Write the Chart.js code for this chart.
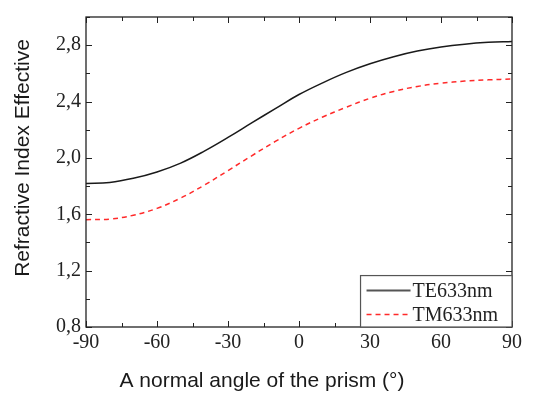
<!DOCTYPE html>
<html><head><meta charset="utf-8">
<script src="https://cdn.jsdelivr.net/npm/chart.js@4"></script>
<style>html,body{margin:0;padding:0;background:#fff}#wrap{width:541px;height:400px}</style>
</head><body><div id="wrap"><canvas id="c" width="541" height="400"></canvas></div>
<script>
const angles = [-90,-80,-70,-60,-50,-40,-30,-20,-10,0,10,20,30,40,50,60,70,80,90];
const te633 = [1.818,1.826,1.855,1.90,1.963,2.048,2.145,2.248,2.35,2.45,2.533,2.607,2.668,2.718,2.758,2.787,2.807,2.82,2.827];
const tm633 = [1.562,1.566,1.593,1.642,1.715,1.807,1.91,2.015,2.117,2.21,2.29,2.36,2.423,2.472,2.507,2.53,2.545,2.554,2.56];
const seriesNames = ["TE633nm","TM633nm"];
const xTicks = [-90,-60,-30,0,30,60,90];
const yTicks = [0.8,1.2,1.6,2.0,2.4,2.8];
const xTitle = "A normal angle of the prism (°)";
const yTitle = "Refractive Index Effective";

const serif = "'Liberation Serif','Times New Roman',serif";
const sans = "'Liberation Sans',Arial,sans-serif";

const framePlugin = {
  id:'frame',
  afterDatasetsDraw(chart){
    const {ctx, chartArea:a, scales} = chart;
    const xs = scales.x, ys = scales.y;
    ctx.save();
    ctx.strokeStyle = '#222'; ctx.lineWidth = 1.3;
    ctx.strokeRect(a.left, a.top, a.right-a.left, a.bottom-a.top);
    ctx.lineWidth = 1;
    for (let v=-90; v<=90; v+=15){
      const px = Math.round(xs.getPixelForValue(v))+0.5;
      const L = (v%30===0)?6:4;
      ctx.beginPath();
      ctx.moveTo(px,a.bottom); ctx.lineTo(px,a.bottom-L);
      ctx.moveTo(px,a.top); ctx.lineTo(px,a.top+L);
      ctx.stroke();
    }
    for (let i=0;i<=11;i++){
      const v = 0.8+i*0.2;
      const py = Math.round(ys.getPixelForValue(v))+0.5;
      const L = (i%2===0)?6:4;
      ctx.beginPath();
      ctx.moveTo(a.left,py); ctx.lineTo(a.left+L,py);
      ctx.moveTo(a.right,py); ctx.lineTo(a.right-L,py);
      ctx.stroke();
    }
    // legend box
    const bx = xs.getPixelForValue(26), bw = a.right - bx;
    const by = ys.getPixelForValue(1.165), bh = a.bottom - by;
    ctx.fillStyle='#fff';
    ctx.fillRect(bx,by,bw,bh);
    ctx.strokeStyle='#555'; ctx.lineWidth=1.2;
    ctx.strokeRect(bx,by,bw,bh);
    ctx.font = "20px " + serif;
    ctx.textBaseline='middle'; ctx.fillStyle='#222';
    chart.data.datasets.forEach((ds,i)=>{
      const yy = by + 15 + i*24;
      ctx.beginPath();
      ctx.strokeStyle = i===0 ? '#555' : ds.borderColor;
      ctx.lineWidth = i===0 ? 2 : 1.4;
      ctx.setLineDash(ds.borderDash||[]);
      ctx.moveTo(bx+6,yy); ctx.lineTo(bx+50,yy); ctx.stroke();
      ctx.setLineDash([]);
      ctx.fillText(ds.label, bx+52, yy+1);
    });
    // axis titles
    ctx.font = "21px " + sans;
    ctx.fillStyle = '#1a1a1a';
    ctx.textAlign = 'center'; ctx.textBaseline = 'middle';
    ctx.fillText(xTitle, 262, 381);
    ctx.translate(23, 158);
    ctx.rotate(-Math.PI/2);
    ctx.fillText(yTitle, 0, 0);
    ctx.restore();
  }
};

new Chart(document.getElementById('c'), {
  type:'line',
  data:{
    labels: angles,
    datasets:[
      {label:seriesNames[0], data: angles.map((a,i)=>({x:a,y:te633[i]})), borderColor:'#1a1a1a', borderWidth:1.5, pointRadius:0, tension:0.4, fill:false},
      {label:seriesNames[1], data: angles.map((a,i)=>({x:a,y:tm633[i]})), borderColor:'#ff2a2a', borderWidth:1.5, borderDash:[5,4], pointRadius:0, tension:0.4, fill:false}
    ]
  },
  options:{
    responsive:false, animation:false, devicePixelRatio:1,
    layout:{padding:{left:0,top:6,right:29,bottom:0}},
    plugins:{legend:{display:false}, tooltip:{enabled:false}},
    scales:{
      x:{type:'linear', min:-90, max:90,
        afterBuildTicks(s){ s.ticks = xTicks.map(v=>({value:v})); },
        afterFit(s){ s.height = 73; },
        grid:{display:false, drawTicks:false},
        border:{display:false},
        ticks:{font:{family:serif,size:20}, color:'#222', padding:4, maxRotation:0, autoSkip:false, callback:v=>String(v)},
        title:{display:false}
      },
      y:{type:'linear', min:0.8, max:3.0,
        afterBuildTicks(s){ s.ticks = yTicks.map(v=>({value:v})); },
        afterFit(s){ s.width = 86; },
        grid:{display:false, drawTicks:false},
        border:{display:false},
        ticks:{font:{family:serif,size:20}, color:'#222', padding:5, autoSkip:false, callback:v=>v.toFixed(1).replace('.',',')},
        title:{display:false}
      }
    }
  },
  plugins:[framePlugin]
});
</script></body></html>
